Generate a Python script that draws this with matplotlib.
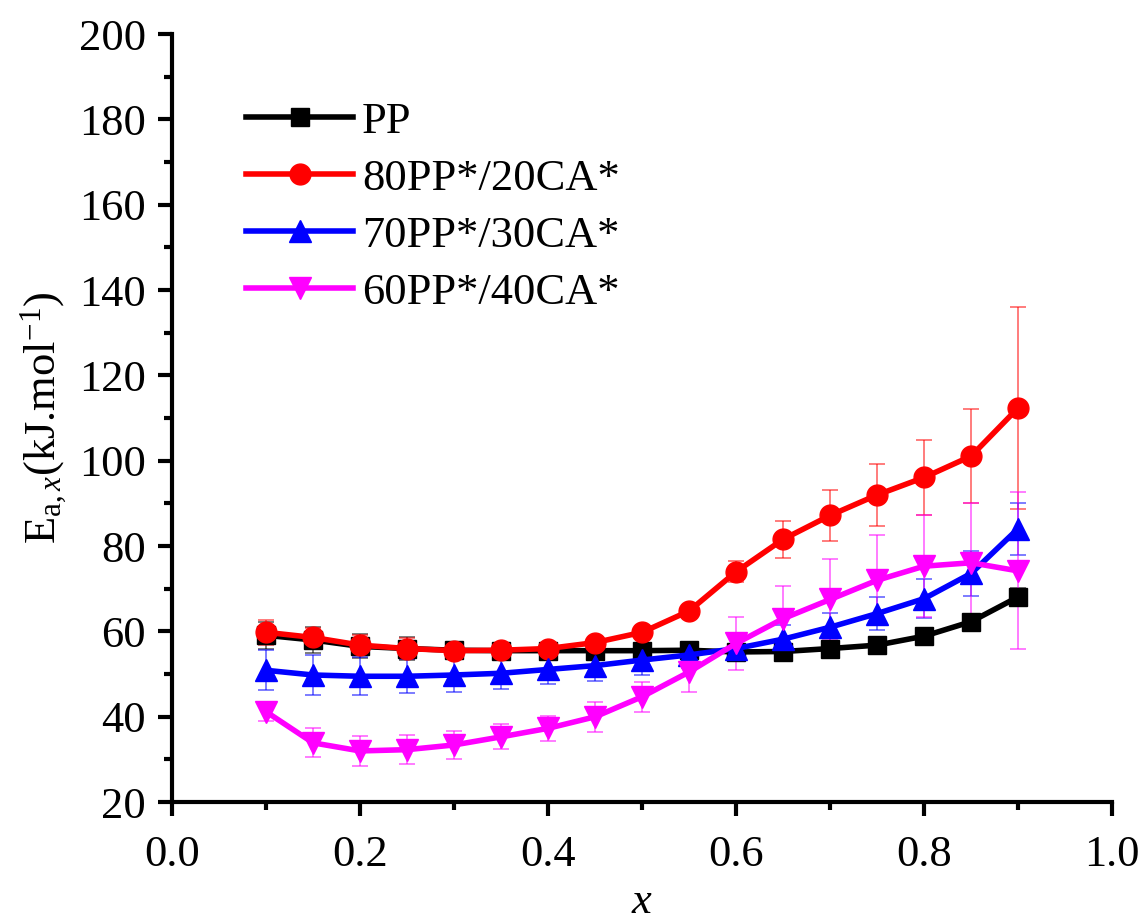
import matplotlib
matplotlib.use("Agg")
import matplotlib.pyplot as plt
from matplotlib.ticker import MultipleLocator

x = [0.10, 0.15, 0.20, 0.25, 0.30, 0.35, 0.40, 0.45, 0.50,
     0.55, 0.60, 0.65, 0.70, 0.75, 0.80, 0.85, 0.90]

pp = [59.1, 58.0, 56.5, 56.0, 55.6, 55.5, 55.5, 55.5, 55.5,
      55.6, 55.2, 55.3, 56.0, 56.8, 58.9, 62.3, 68.1]
pp_err = [3.2, 3.0, 2.8, 2.7, 2.0, 1.5, 1.2, 1.0, 1.0,
          1.0, 1.0, 1.0, 1.0, 1.0, 1.2, 1.5, 2.0]

pp80 = [59.8, 58.6, 56.8, 56.0, 55.5, 55.6, 56.0, 57.4, 59.8,
        64.8, 74.0, 81.6, 87.2, 92.0, 96.1, 101.1, 112.4]
pp80_err = [3.0, 2.3, 2.3, 2.4, 1.8, 1.2, 1.0, 1.0, 1.2,
            1.2, 2.5, 4.4, 6.0, 7.2, 8.7, 11.0, 23.7]

pp70 = [50.9, 49.8, 49.5, 49.5, 49.8, 50.2, 51.1, 52.0, 53.3,
        54.5, 56.0, 58.2, 61.0, 64.2, 67.7, 73.6, 84.1]
pp70_err = [4.7, 4.7, 4.4, 4.0, 3.9, 3.6, 3.3, 3.6, 3.5,
            3.0, 3.0, 3.3, 3.4, 3.8, 4.6, 5.3, 6.1]

pp60 = [41.2, 33.9, 32.0, 32.3, 33.4, 35.3, 37.3, 40.0, 44.7,
        50.5, 57.2, 63.0, 67.5, 72.0, 75.3, 76.1, 74.2]
pp60_err = [2.3, 3.4, 3.5, 3.4, 3.2, 2.9, 3.0, 3.5, 3.5,
            4.6, 6.2, 7.6, 9.6, 10.6, 12.0, 14.0, 18.4]

series = [
    ("PP", pp, pp_err, "black", "s", 13),
    ("80PP*/20CA*", pp80, pp80_err, "red", "o", 15),
    ("70PP*/30CA*", pp70, pp70_err, "blue", "^", 16),
    ("60PP*/40CA*", pp60, pp60_err, "magenta", "v", 16),
]

plt.rcParams["font.family"] = ["Liberation Serif", "DejaVu Serif"]
plt.rcParams["mathtext.fontset"] = "custom"
plt.rcParams["mathtext.rm"] = "Liberation Serif"
plt.rcParams["mathtext.it"] = "Liberation Serif:italic"

fig = plt.figure(figsize=(11.43, 9.22), dpi=100)
ax = fig.add_axes([0.1505, 0.130, 0.8225, 0.833])

for label, vals, err, color, marker, ms in series:
    ax.errorbar(x, vals, yerr=err, fmt="none", ecolor=color, elinewidth=1.2,
                capsize=5.5, capthick=1.2, alpha=0.6, zorder=2)
for label, vals, err, color, marker, ms in series:
    ax.plot(x, vals, color=color, marker=marker, markersize=ms, linewidth=4,
            label=label, zorder=3)

ax.set_xlim(0, 1.0)
ax.set_ylim(20, 200)
ax.xaxis.set_major_locator(MultipleLocator(0.2))
ax.xaxis.set_minor_locator(MultipleLocator(0.1))
ax.yaxis.set_major_locator(MultipleLocator(20))
ax.yaxis.set_minor_locator(MultipleLocator(10))
ax.xaxis.set_major_formatter(plt.FuncFormatter(lambda v, p: f"{v:.1f}"))

for side in ["top", "right"]:
    ax.spines[side].set_visible(False)
for side in ["left", "bottom"]:
    ax.spines[side].set_linewidth(3)

ax.tick_params(which="major", direction="out", length=10, width=3,
               labelsize=32)
ax.tick_params(which="minor", direction="out", length=6, width=3)
ax.tick_params(axis="x", which="major", pad=14)
ax.tick_params(axis="y", which="major", pad=9)

ax.set_xlabel(r"$\mathit{x}$", fontsize=32, labelpad=5)
ax.set_ylabel(r"E$_{\mathregular{a,}\mathit{x}}$(kJ.mol$^{\mathregular{-1}}$)",
              fontsize=32, labelpad=6)

ax.legend(loc="upper left", bbox_to_anchor=(0.06, 0.935), frameon=False,
          fontsize=32, handlelength=2.4, handletextpad=0.2, labelspacing=0.38,
          borderaxespad=0)

fig.savefig("out.png", dpi=100)
